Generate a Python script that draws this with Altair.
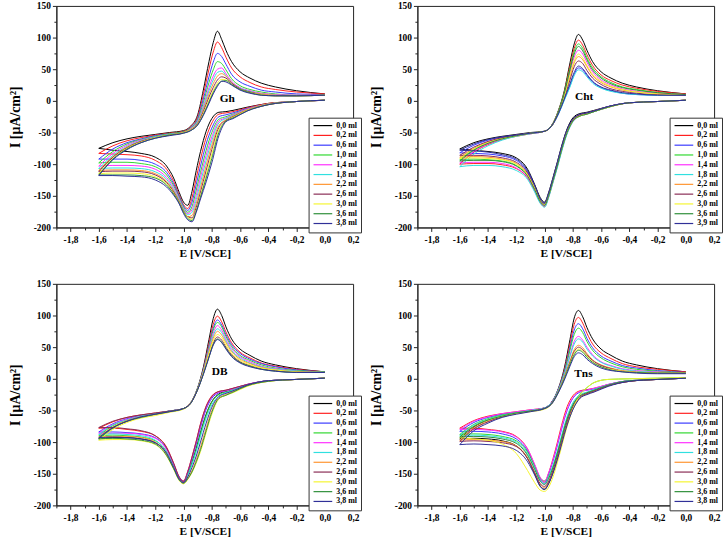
import altair as alt
import pandas as pd

# Potential grids (V vs SCE)
E_OX = [-1.6, -1.5, -1.4, -1.3, -1.2, -1.1, -1.0, -0.95, -0.9, -0.86, -0.82, -0.79,
        -0.76, -0.73, -0.7, -0.66, -0.6, -0.53, -0.45, -0.35, -0.2, 0.0]
E_RED = [0.0, -0.2, -0.4, -0.55, -0.65, -0.7, -0.75, -0.8, -0.84, -0.88, -0.91, -0.94,
         -0.97, -1.0, -1.03, -1.07, -1.12, -1.2, -1.3, -1.4, -1.5, -1.6]

LABELS_38 = ["0,0 ml", "0,2 ml", "0,6 ml", "1,0 ml", "1,4 ml", "1,8 ml",
             "2,2 ml", "2,6 ml", "3,0 ml", "3,6 ml", "3,8 ml"]
LABELS_39 = ["0,0 ml", "0,2 ml", "0,6 ml", "1,0 ml", "1,4 ml", "1,8 ml",
             "2,2 ml", "2,6 ml", "3,0 ml", "3,6 ml", "3,9 ml"]

COLORS = ["#000000", "#ff2020", "#3a3aff", "#30d830", "#ff30ff", "#30e0e0",
          "#ff9530", "#8a2c55", "#f5f530", "#2f8f3a", "#303098"]

# ---- Gh ----
GH_OX = [
    [-75, -66, -60, -56, -53, -50, -47, -40, -22, 17, 62, 92, 110, 97, 80, 62, 46, 36, 28, 22, 16, 11],
    [-83, -71, -63, -58, -54, -51, -48, -41, -25, 10, 50, 77, 93, 84, 69, 52, 38, 29, 22, 18, 14, 11],
    [-92, -76, -66, -60, -55, -52, -49, -42, -28, 3, 38, 61, 75, 70, 58, 42, 30, 23, 17, 14, 11, 10],
    [-98, -80, -68, -61, -56, -52, -49, -43, -30, -3, 29, 49, 62, 59, 49, 35, 24, 18, 14, 11, 9, 9],
    [-103, -83, -70, -62, -57, -53, -50, -44, -32, -8, 21, 39, 50, 52, 43, 31, 21, 16, 12, 10, 9, 9],
    [-107, -86, -72, -63, -57, -53, -50, -45, -33, -11, 16, 33, 45, 47, 40, 29, 20, 15, 11, 9, 8, 9],
    [-110, -88, -73, -64, -58, -54, -50, -45, -35, -14, 11, 27, 39, 43, 39, 29, 19, 14, 11, 9, 8, 9],
    [-112, -89, -74, -64, -58, -54, -50, -46, -36, -17, 6, 21, 33, 38, 36, 28, 19, 14, 10, 8, 8, 9],
    [-115, -91, -75, -65, -58, -54, -50, -46, -37, -20, 1, 16, 28, 34, 33, 26, 18, 13, 10, 8, 8, 9],
    [-117, -92, -76, -66, -59, -54, -51, -47, -38, -22, -2, 13, 25, 31, 32, 26, 18, 13, 9, 8, 8, 9],
    [-118, -93, -77, -66, -59, -55, -51, -47, -38, -23, -4, 11, 23, 31, 30, 25, 17, 12, 9, 8, 8, 9],
]
GH_RED = [
    [1, -1, -4, -10, -15, -17, -18, -28, -48, -80, -110, -143, -165, -160, -145, -122, -103, -89, -83, -80, -78, -75],
    [1, -1, -4, -11, -17, -19, -21, -35, -58, -92, -122, -153, -170, -164, -149, -127, -108, -94, -87, -85, -84, -83],
    [1, -1, -5, -12, -19, -22, -25, -43, -68, -103, -132, -160, -173, -166, -151, -131, -113, -100, -94, -92, -92, -92],
    [1, -1, -5, -13, -21, -25, -29, -50, -78, -113, -141, -167, -176, -168, -153, -134, -117, -104, -99, -97, -97, -98],
    [1, -1, -5, -13, -22, -27, -32, -57, -86, -121, -149, -172, -178, -170, -155, -137, -121, -108, -103, -102, -102, -103],
    [1, -1, -5, -14, -23, -28, -35, -63, -94, -129, -156, -176, -180, -171, -157, -140, -124, -112, -107, -106, -106, -107],
    [1, -1, -5, -14, -24, -30, -39, -70, -102, -137, -162, -181, -183, -173, -159, -142, -127, -115, -110, -109, -109, -110],
    [1, -1, -6, -15, -25, -31, -42, -77, -110, -144, -168, -185, -183, -174, -160, -144, -129, -117, -112, -111, -111, -112],
    [1, -1, -6, -15, -26, -32, -46, -84, -117, -150, -173, -187, -184, -175, -161, -146, -131, -120, -115, -114, -114, -115],
    [1, -1, -6, -16, -27, -32, -50, -91, -122, -152, -174, -189, -186, -176, -162, -147, -133, -122, -118, -117, -117, -117],
    [1, -1, -6, -16, -28, -33, -55, -98, -128, -155, -176, -191, -188, -178, -163, -149, -136, -125, -120, -119, -118, -118],
]

# ---- Cht ----
CHT_OX = [
    [-76, -66, -60, -56, -53, -50, -48, -39, -14, 16, 60, 90, 105, 96, 80, 62, 46, 36, 28, 22, 16, 11],
    [-100, -81, -69, -61, -56, -52, -48, -39, -15, 14, 55, 83, 96, 88, 73, 56, 41, 32, 25, 20, 15, 11],
    [-82, -70, -62, -57, -54, -51, -48, -40, -20, 2, 24, 42, 52, 49, 40, 30, 21, 16, 12, 10, 9, 9],
    [-93, -77, -67, -60, -55, -51, -48, -39, -15, 13, 51, 78, 90, 83, 68, 52, 38, 29, 22, 18, 13, 10],
    [-98, -80, -68, -61, -55, -52, -48, -39, -16, 10, 45, 69, 80, 74, 61, 46, 33, 25, 19, 15, 12, 10],
    [-104, -84, -71, -62, -56, -52, -48, -40, -20, 1, 22, 40, 49, 46, 38, 28, 20, 15, 12, 10, 9, 9],
    [-89, -75, -65, -59, -55, -51, -48, -40, -17, 7, 38, 60, 70, 65, 54, 40, 29, 22, 17, 14, 11, 10],
    [-86, -73, -64, -58, -54, -51, -48, -40, -18, 5, 33, 54, 63, 59, 48, 36, 26, 19, 15, 12, 10, 9],
    [-91, -76, -66, -60, -55, -51, -48, -40, -17, 8, 41, 63, 74, 68, 56, 42, 31, 23, 18, 14, 11, 10],
    [-95, -78, -67, -60, -55, -51, -48, -39, -16, 12, 49, 74, 86, 79, 65, 49, 36, 27, 21, 17, 13, 10],
    [-78, -68, -61, -57, -54, -51, -48, -40, -19, 3, 27, 45, 55, 51, 42, 31, 22, 17, 13, 11, 9, 9],
]
CHT_RED = [
    [1, -1, -3, -9, -15, -18, -20, -27, -44, -72, -97, -121, -144, -160, -153, -132, -108, -90, -83, -80, -78, -76],
    [1, -1, -3, -10, -17, -20, -23, -32, -50, -79, -104, -128, -151, -167, -161, -142, -122, -107, -101, -99, -99, -100],
    [1, -1, -3, -9, -16, -19, -22, -30, -47, -75, -100, -124, -147, -162, -156, -135, -112, -94, -87, -84, -83, -82],
    [1, -1, -3, -10, -17, -20, -23, -31, -49, -77, -102, -126, -149, -165, -159, -139, -118, -102, -95, -93, -92, -93],
    [1, -1, -3, -10, -17, -21, -24, -33, -51, -79, -104, -127, -150, -166, -160, -141, -121, -106, -99, -97, -97, -98],
    [1, -1, -3, -10, -17, -21, -24, -33, -52, -81, -106, -129, -152, -168, -162, -144, -124, -110, -104, -102, -102, -104],
    [1, -1, -3, -10, -16, -20, -23, -31, -48, -76, -101, -125, -148, -164, -158, -138, -116, -99, -92, -89, -88, -89],
    [1, -1, -3, -9, -16, -19, -22, -30, -47, -75, -100, -124, -147, -163, -157, -137, -114, -97, -90, -87, -86, -86],
    [1, -1, -3, -10, -17, -21, -24, -32, -49, -77, -101, -125, -148, -164, -158, -138, -117, -100, -93, -91, -90, -91],
    [1, -1, -3, -10, -17, -21, -24, -32, -50, -78, -103, -126, -149, -165, -159, -140, -119, -103, -96, -94, -94, -95],
    [1, -1, -3, -9, -16, -19, -21, -29, -45, -73, -98, -122, -145, -161, -155, -133, -110, -92, -85, -81, -79, -78],
]

# ---- DB ----
DB_OX = [
    [-94, -77, -67, -60, -56, -51, -47, -38, -14, 18, 62, 95, 110, 100, 82, 63, 47, 37, 28, 22, 16, 11],
    [-78, -68, -61, -57, -54, -51, -47, -38, -15, 15, 56, 86, 99, 90, 74, 57, 42, 33, 25, 20, 15, 11],
    [-84, -71, -63, -58, -55, -51, -47, -38, -15, 14, 52, 80, 93, 85, 70, 54, 40, 31, 24, 19, 14, 11],
    [-90, -74, -65, -59, -55, -51, -47, -38, -15, 13, 50, 77, 89, 82, 67, 51, 37, 29, 22, 17, 13, 11],
    [-86, -72, -64, -59, -55, -51, -47, -38, -16, 12, 47, 72, 84, 77, 63, 48, 35, 27, 20, 16, 12, 10],
    [-88, -73, -65, -59, -55, -51, -47, -38, -16, 11, 44, 68, 79, 73, 60, 45, 33, 25, 19, 15, 12, 10],
    [-92, -76, -66, -60, -56, -52, -47, -38, -16, 10, 42, 64, 75, 69, 57, 43, 31, 24, 18, 14, 11, 10],
    [-77, -67, -61, -57, -54, -51, -47, -39, -17, 8, 36, 56, 66, 61, 50, 38, 27, 21, 16, 13, 11, 10],
    [-97, -80, -69, -62, -58, -53, -48, -39, -17, 9, 39, 60, 70, 65, 53, 40, 29, 22, 17, 14, 11, 10],
    [-95, -78, -67, -61, -56, -52, -47, -39, -17, 7, 34, 54, 63, 58, 48, 36, 26, 20, 15, 12, 10, 10],
    [-93, -77, -67, -60, -56, -52, -47, -39, -17, 7, 34, 53, 62, 57, 47, 35, 25, 19, 15, 12, 10, 10],
]
DB_RED = [
    [1, -1, -3, -10, -17, -20, -24, -36, -56, -85, -110, -132, -150, -162, -157, -138, -117, -101, -95, -93, -93, -94],
    [1, -1, -3, -9, -15, -18, -20, -27, -43, -71, -98, -123, -146, -161, -155, -133, -108, -90, -83, -80, -78, -78],
    [1, -1, -3, -9, -16, -19, -22, -31, -48, -77, -103, -127, -148, -162, -156, -135, -111, -93, -87, -85, -84, -84],
    [1, -1, -3, -10, -17, -21, -25, -37, -58, -87, -112, -133, -151, -163, -158, -138, -115, -98, -92, -90, -89, -90],
    [1, -1, -3, -9, -16, -19, -21, -29, -45, -74, -100, -125, -147, -163, -157, -136, -112, -94, -88, -86, -86, -86],
    [1, -1, -3, -10, -18, -22, -27, -41, -62, -91, -115, -135, -152, -164, -159, -139, -116, -97, -90, -88, -87, -88],
    [1, -1, -4, -11, -20, -25, -30, -50, -78, -108, -128, -145, -157, -165, -160, -141, -119, -100, -93, -91, -91, -92],
    [1, -1, -3, -9, -15, -18, -20, -28, -44, -72, -99, -124, -147, -163, -156, -134, -109, -90, -82, -79, -77, -77],
    [1, -1, -4, -12, -22, -26, -32, -56, -85, -115, -133, -148, -159, -166, -161, -143, -122, -104, -98, -96, -96, -97],
    [1, -1, -4, -11, -21, -26, -31, -53, -82, -112, -131, -147, -158, -165, -160, -142, -121, -103, -97, -95, -94, -95],
    [1, -1, -3, -10, -19, -23, -28, -45, -70, -100, -122, -140, -155, -164, -159, -140, -118, -101, -95, -93, -92, -93],
]

# ---- Tns ----
TNS_OX = [
    [-95, -76, -65, -58, -54, -50, -46, -37, -14, 17, 62, 96, 108, 98, 81, 63, 47, 37, 28, 22, 16, 11],
    [-78, -66, -59, -55, -52, -49, -46, -37, -15, 14, 55, 86, 97, 88, 72, 55, 41, 32, 24, 19, 15, 11],
    [-83, -69, -61, -56, -53, -50, -46, -37, -15, 12, 49, 77, 87, 79, 64, 49, 36, 28, 21, 17, 13, 10],
    [-88, -72, -63, -57, -53, -50, -46, -38, -16, 10, 45, 70, 80, 73, 59, 45, 33, 25, 19, 15, 12, 9],
    [-80, -67, -60, -55, -52, -49, -46, -38, -17, 7, 37, 59, 67, 61, 50, 38, 27, 21, 16, 13, 11, 9],
    [-90, -73, -64, -58, -54, -50, -46, -38, -17, 6, 35, 55, 63, 58, 47, 36, 26, 20, 15, 12, 10, 9],
    [-97, -78, -67, -60, -55, -51, -47, -39, -19, 3, 28, 46, 53, 49, 40, 30, 22, 17, 13, 11, 9, 9],
    [-99, -79, -68, -60, -55, -51, -47, -39, -19, 2, 26, 43, 50, 46, 38, 29, 21, 16, 12, 10, 9, 9],
    [-93, -75, -65, -59, -55, -52, -48, -40, -20, 1, 24, 40, 47, 44, 36, 27, 19, 15, 12, 10, 9, 9],
    [-92, -75, -65, -59, -54, -51, -47, -39, -20, 0, 23, 38, 45, 42, 34, 26, 19, 14, 11, 10, 9, 9],
    [-104, -82, -70, -61, -56, -52, -47, -40, -21, -2, 20, 35, 41, 38, 31, 24, 17, 13, 11, 9, 8, 8],
]
TNS_RED = [
    [1, -1, -4, -11, -20, -24, -30, -48, -72, -103, -127, -148, -165, -175, -170, -150, -126, -106, -98, -95, -94, -95],
    [1, -1, -3, -9, -15, -17, -19, -27, -44, -74, -101, -126, -148, -163, -157, -136, -111, -91, -83, -80, -78, -78],
    [1, -1, -3, -9, -16, -18, -21, -31, -50, -80, -106, -130, -150, -165, -159, -138, -114, -95, -87, -84, -83, -83],
    [2, 1, 0, -1, -6, -14, -24, -42, -64, -93, -117, -138, -153, -161, -157, -138, -116, -98, -91, -88, -87, -88],
    [1, -1, -3, -9, -15, -18, -20, -30, -48, -78, -104, -128, -148, -162, -156, -135, -111, -92, -84, -81, -80, -80],
    [1, -1, -3, -10, -17, -21, -25, -38, -59, -90, -115, -137, -155, -166, -161, -141, -119, -100, -93, -90, -89, -90],
    [1, -1, -4, -11, -20, -24, -30, -46, -70, -101, -125, -146, -163, -172, -167, -148, -125, -106, -99, -97, -96, -97],
    [1, -1, -4, -11, -19, -23, -28, -44, -67, -98, -122, -144, -161, -170, -166, -148, -126, -107, -101, -99, -98, -99],
    [2, 1, 0, -1, -6, -14, -26, -48, -75, -108, -133, -155, -171, -178, -176, -164, -145, -118, -103, -97, -95, -93],
    [1, -1, -3, -10, -18, -22, -27, -41, -63, -94, -118, -140, -157, -167, -162, -143, -121, -102, -95, -92, -91, -92],
    [1, -1, -4, -12, -21, -25, -31, -49, -73, -104, -128, -149, -165, -174, -170, -152, -131, -113, -106, -104, -103, -104],
]

X_TICKS = [-1.9, -1.8, -1.7, -1.6, -1.5, -1.4, -1.3, -1.2, -1.1, -1.0, -0.9, -0.8,
           -0.7, -0.6, -0.5, -0.4, -0.3, -0.2, -0.1, 0.0, 0.1, 0.2]
Y_TICKS = [-200, -175, -150, -125, -100, -75, -50, -25, 0, 25, 50, 75, 100, 125, 150]

FONT = "Liberation Serif"

x_axis = alt.Axis(
    values=X_TICKS,
    labelExpr="abs(round(datum.value * 10)) % 2 == 0 ? (datum.value < -0.01 ? '-' : '') + replace(format(abs(datum.value), '.1f'), '.', ',') : ''",
    tickSize={"condition": {"test": "abs(round(datum.value * 10)) % 2 == 0", "value": 4}, "value": 2.5},
    labelOverlap=False, labelFlush=False, labelPadding=3,
    title="E [V/SCE]", titlePadding=3, minExtent=17, maxExtent=17,
    labelFontSize=9.5, titleFontSize=11.5,
)
y_axis = alt.Axis(
    values=Y_TICKS,
    labelExpr="datum.value % 50 == 0 ? '' + datum.value : ''",
    tickSize={"condition": {"test": "datum.value % 50 == 0", "value": 4}, "value": 2.5},
    labelOverlap=False, labelPadding=2,
    title="I [µA/cm²]", titlePadding=10, minExtent=24, maxExtent=24,
    labelFontSize=9.5, titleFontSize=14,
)
x_scale = alt.Scale(domain=[-1.9, 0.2], nice=False, zero=False)
y_scale = alt.Scale(domain=[-200, 150], nice=False, zero=False)


def sweep_frame(ox_rows, red_rows, labels):
    recs = []
    for lab, red, ox in zip(labels, red_rows, ox_rows):
        for e, i in zip(E_RED, red):
            recs.append({"E": e, "I": i, "conc": lab, "sweep": "cathodic"})
        for e, i in zip(E_OX, ox):
            recs.append({"E": e, "I": i, "conc": lab, "sweep": "anodic"})
    return pd.DataFrame(recs)


def panel(tag, ox_rows, red_rows, labels, tag_e, tag_i):
    df = sweep_frame(ox_rows, red_rows, labels)
    legend = alt.Legend(
        title=None, orient="none", legendX=255, legendY=113,
        strokeColor="#333333", fillColor="white", padding=4,
        symbolType="M-1,0H5.3", symbolSize=36, symbolStrokeWidth=1.2,
        labelFont=FONT, labelFontWeight="bold", labelFontSize=8, labelColor="black",
        labelOffset=16, rowPadding=1.9,
    )
    curves = alt.Chart(df).mark_line(interpolate="monotone", strokeWidth=1).encode(
        x=alt.X("E:Q", scale=x_scale, axis=x_axis),
        y=alt.Y("I:Q", scale=y_scale, axis=y_axis),
        color=alt.Color("conc:N", scale=alt.Scale(domain=labels, range=COLORS), sort=labels, legend=legend),
        detail="sweep:N",
    )
    name = alt.Chart(pd.DataFrame({"E": [tag_e], "I": [tag_i], "name": [tag]})).mark_text(
        font=FONT, fontWeight="bold", fontSize=11.5, color="black", align="center", baseline="middle"
    ).encode(
        x=alt.X("E:Q", scale=x_scale, axis=x_axis),
        y=alt.Y("I:Q", scale=y_scale, axis=y_axis),
        text="name:N",
    )
    return alt.layer(curves, name).properties(width=300, height=224)


gh = panel("Gh", GH_OX, GH_RED, LABELS_38, -0.69, 3)
cht = panel("Cht", CHT_OX, CHT_RED, LABELS_39, -0.72, 6)
db = panel("DB", DB_OX, DB_RED, LABELS_38, -0.745, 11)
tns = panel("Tns", TNS_OX, TNS_RED, LABELS_38, -0.725, 8)

top = alt.hconcat(gh, cht, spacing=7).resolve_scale(color="independent").resolve_legend(color="independent")
bottom = alt.hconcat(db, tns, spacing=7).resolve_scale(color="independent").resolve_legend(color="independent")

chart = (
    alt.vconcat(top, bottom, spacing=19)
    .resolve_scale(color="independent")
    .resolve_legend(color="independent")
    .properties(padding={"left": 8, "top": -3, "right": 0, "bottom": 0}, background="white")
    .configure_view(stroke="#222222", strokeWidth=1)
    .configure_axis(
        grid=False, domainColor="#222222", tickColor="#222222", labelColor="black", titleColor="black",
        labelFont=FONT, titleFont=FONT, labelFontWeight="bold", titleFontWeight="bold",
        labelOverlap=False,
    )
)

chart.save("out.html", embed_options={"renderer": "svg", "actions": False})
